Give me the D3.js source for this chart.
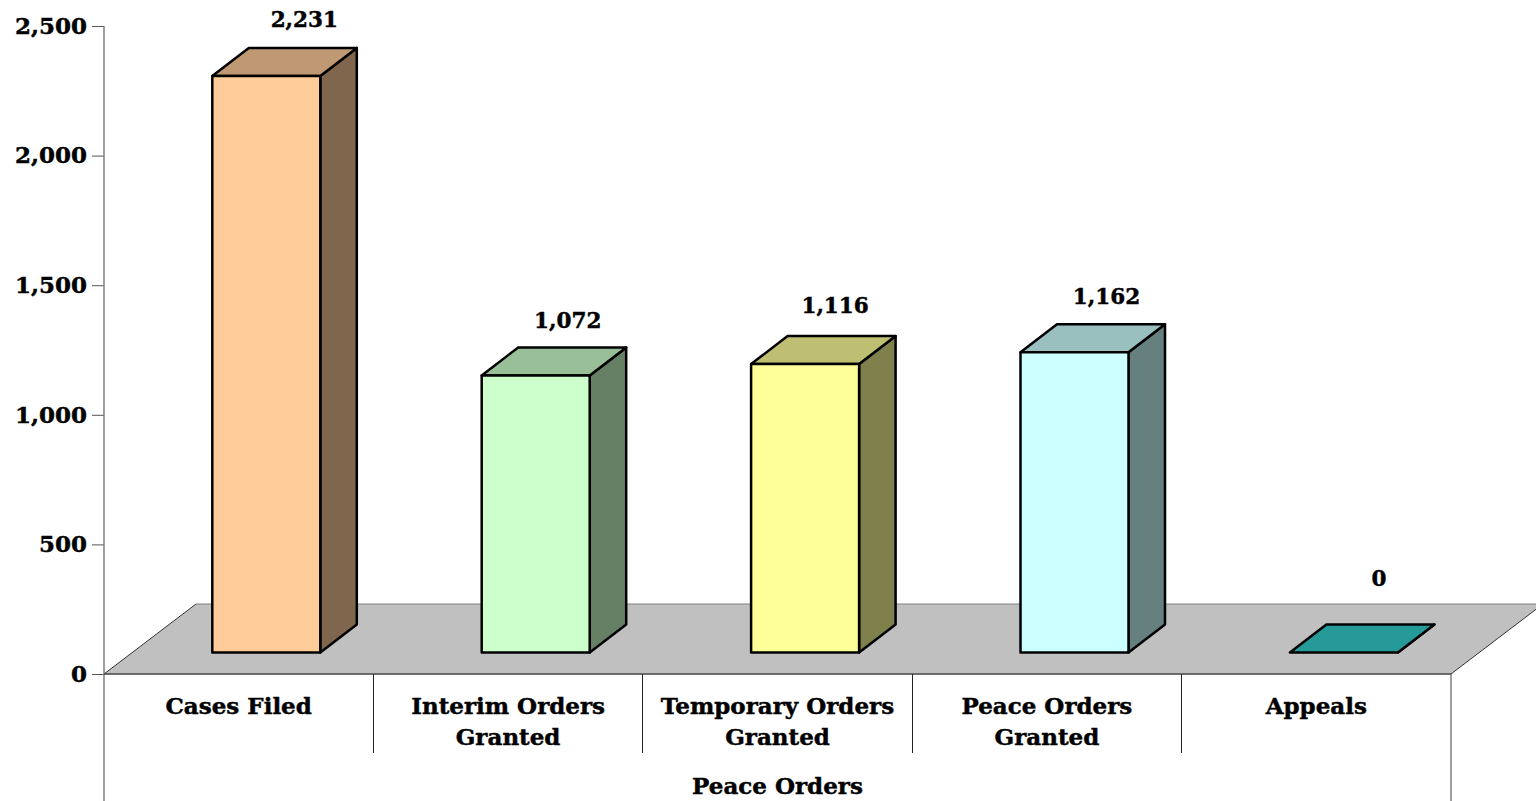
<!DOCTYPE html>
<html>
<head>
<meta charset="utf-8">
<style>
	body{
		margin: 0;
		background: white;
		overflow: hidden;
	}
	svg{
		display: block;
	}
	text{
		font-family: "DejaVu Serif", serif;
		font-weight: bold;
		fill: black;
		stroke: black;
		stroke-width: 0.45px;
	}
</style>
</head>
<body>
<svg width="1536" height="801"></svg>
<script src="https://cdn.jsdelivr.net/npm/d3@7/dist/d3.min.js"></script>
<script>
	var categories = ["Cases Filed","Interim Orders Granted","Temporary Orders Granted","Peace Orders Granted","Appeals"];
	var categoryLines = [["Cases Filed"],["Interim Orders","Granted"],["Temporary Orders","Granted"],["Peace Orders","Granted"],["Appeals"]];
	var values = [2231,1072,1116,1162,0];
	var valueLabels = ["2,231","1,072","1,116","1,162","0"];
	var frontColors = ["#FFCC99","#CCFFCC","#FFFF99","#CCFFFF","#33CCCC"];
	var yTicks = [0,500,1000,1500,2000,2500];
	var axisTitle = "Peace Orders";

	var svg = d3.select("svg");

	var y = d3.scaleLinear().domain([0,2500]).range([674,26]);
	var x = d3.scaleBand().domain(categories).range([104,1451]);
	// bars sit forward on the floor so they get their own slightly flatter scale
	var yBar = d3.scaleLinear().domain([0,2500]).range([652.5,6.4]);

	// 3d offsets, the floor is deeper than the bars
	var floorDx = 92, floorDy = 70;
	var barDx = 36.5, barDy = 28;
	var barInset = 108.3, barWidth = 108;
	// label tweaks, the original placed these by hand
	var labelDx = [5,-1,-3,-1,0], labelDy = [-1,1,-3,0,0];

	// floor
	svg.append("path")
		.attr("d","M104,674L"+(104+floorDx)+","+(674-floorDy)+"L"+(1451+floorDx)+","+(674-floorDy)+"L1451,674Z")
		.attr("fill","#C0C0C0");
	svg.append("line")
		.attr("x1",104+floorDx).attr("y1",674-floorDy)
		.attr("x2",1451+floorDx).attr("y2",674-floorDy)
		.attr("stroke","#808080");
	svg.append("line")
		.attr("x1",104).attr("y1",674).attr("x2",104+floorDx).attr("y2",674-floorDy)
		.attr("stroke","#333");
	svg.append("line")
		.attr("x1",1451).attr("y1",674).attr("x2",1451+floorDx).attr("y2",674-floorDy)
		.attr("stroke","#333");

	// y axis
	var yAxis = d3.axisLeft(y)
		.tickValues(yTicks)
		.tickFormat(d3.format(","))
		.tickSize(12)
		.tickPadding(5);
	var yG = svg.append("g")
		.attr("transform","translate(104,0)")
		.call(yAxis);
	yG.select(".domain").remove();
	yG.selectAll("line").attr("stroke","#555");
	yG.selectAll("text")
		.style("font-family","\"DejaVu Serif\", serif")
		.style("font-weight","bold")
		.style("font-size","23px")
		.attr("fill","black");

	// frame lines
	svg.append("line").attr("x1",104).attr("x2",104).attr("y1",26).attr("y2",801).attr("stroke","#777").attr("stroke-width",1.4);
	svg.append("line").attr("x1",1451).attr("x2",1451).attr("y1",674).attr("y2",801).attr("stroke","#777").attr("stroke-width",1.4);
	svg.append("line").attr("x1",104).attr("x2",1451).attr("y1",674).attr("y2",674).attr("stroke","#444").attr("stroke-width",1.5);

	svg.selectAll(".sep")
		.data(categories.slice(1))
		.enter().append("line")
		.attr("class","sep")
		.attr("x1",function(d){return Math.floor(x(d))+0.5;})
		.attr("x2",function(d){return Math.floor(x(d))+0.5;})
		.attr("y1",674)
		.attr("y2",753)
		.attr("stroke","#222");

	// bars
	var bars = svg.selectAll(".bar")
		.data(categories)
		.enter().append("g")
		.attr("class","bar")
		.attr("stroke","black")
		.attr("stroke-width",2.5)
		.attr("stroke-linejoin","round");

	function shade(c,k){
		var r = d3.rgb(c);
		return d3.rgb(r.r*k,r.g*k,r.b*k).formatHex();
	}
	function barLeft(d){ return x(d)+barInset; }
	function barTop(d){ return yBar(values[categories.indexOf(d)]); }

	bars.append("path")
		.attr("fill",function(d,i){return shade(frontColors[i],0.5);})
		.attr("d",function(d){
			var r = barLeft(d)+barWidth, t = barTop(d), b = yBar(0);
			return "M"+r+","+t+"L"+(r+barDx)+","+(t-barDy)+"L"+(r+barDx)+","+(b-barDy)+"L"+r+","+b+"Z";
		});
	bars.append("path")
		.attr("fill",function(d,i){return shade(frontColors[i],0.75);})
		.attr("d",function(d){
			var l = barLeft(d), t = barTop(d);
			return "M"+l+","+t+"L"+(l+barDx)+","+(t-barDy)+"L"+(l+barWidth+barDx)+","+(t-barDy)+"L"+(l+barWidth)+","+t+"Z";
		});
	bars.filter(function(d,i){return values[i]>0;}).append("rect")
		.attr("fill",function(d){return frontColors[categories.indexOf(d)];})
		.attr("x",barLeft)
		.attr("y",barTop)
		.attr("width",barWidth)
		.attr("height",function(d){return yBar(0)-barTop(d);});

	// value labels
	svg.selectAll(".val")
		.data(categories)
		.enter().append("text")
		.attr("class","val")
		.attr("text-anchor","middle")
		.attr("font-size",21.5)
		.attr("x",function(d,i){return barLeft(d)+(values[i]>0?87:89)+labelDx[i];})
		.attr("y",function(d,i){return barTop(d)-(values[i]>0?48:67)+labelDy[i];})
		.text(function(d,i){return valueLabels[i];});

	// category labels
	var cat = svg.selectAll(".cat")
		.data(categories)
		.enter().append("text")
		.attr("class","cat")
		.attr("text-anchor","middle")
		.attr("font-size",23);
	cat.selectAll("tspan")
		.data(function(d,i){return categoryLines[i].map(function(t){return {t:t,c:d};});})
		.enter().append("tspan")
		.attr("x",function(d){return x(d.c)+x.bandwidth()/2;})
		.attr("y",function(d,i){return 714+i*31;})
		.text(function(d){return d.t;});

	svg.append("text")
		.attr("text-anchor","middle")
		.attr("font-size",23)
		.attr("x",777.5)
		.attr("y",794)
		.text(axisTitle);
</script>
</body>
</html>
